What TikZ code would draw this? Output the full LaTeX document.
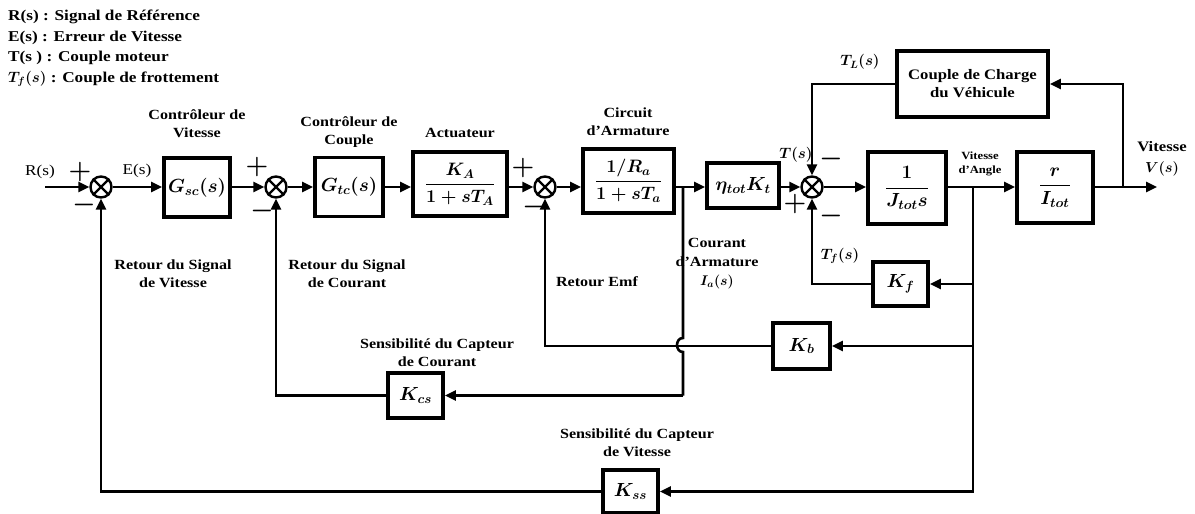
\RequirePackage{fix-cm}
\documentclass[tikz,border=0pt]{standalone}
\usepackage{amsmath}
\usepackage{bm}
\usepackage{fontspec}
\setmainfont{Liberation Serif}[FakeStretch=1.15]
\usetikzlibrary{arrows.meta}
\newcommand{\sumx}[1]{\draw[line width=2.4pt] (#1.45)--(#1.225) (#1.135)--(#1.315);}
\begin{document}
\begin{tikzpicture}[x=1pt,y=-1pt,
  blk/.style={draw, line width=3.8pt, inner sep=0pt, font=\fontsize{19}{22}\selectfont},
  sumn/.style={draw, circle, line width=2.4pt, minimum size=21pt, inner sep=0pt},
  conn/.style={line width=2.6pt},
  arr/.style={conn, -{Triangle[length=11pt,width=10pt]}},
  lbl/.style={font=\fontsize{14}{18}\selectfont\bfseries, align=center, inner sep=0pt},
  lgd/.style={font=\fontsize{15}{18}\selectfont\bfseries, anchor=west, inner sep=0pt},
  sgn/.style={font=\fontsize{26}{26}\selectfont, inner sep=0pt},
  mlb/.style={font=\fontsize{15}{18}\selectfont, inner sep=0pt, align=center},
  small/.style={font=\fontsize{11}{14}\selectfont\bfseries, align=center, inner sep=0pt}]
\useasboundingbox (0,0) rectangle (1195,514);

% legend
\node[lgd] (lg1) at (8,17) {R(s) : Signal de Référence};
\node[lgd] (lg2) at (8,38) {E(s) : Erreur de Vitesse};
\node[lgd] (lg3) at (8,58) {T(s ) : Couple moteur};
\node[lgd] (lg4) at (8,79) {$\bm{T_f(s)}$ : Couple de frottement};

% coordinates
\coordinate (in) at (45,187);
\coordinate (j1) at (683,187);
\coordinate (j2) at (973,187);
\coordinate (j3) at (1123,187);
\coordinate (out) at (1157,187);

% summing junctions
\node[sumn] (s1) at (101,187) {};
\node[sumn] (s2) at (276,187) {};
\node[sumn] (s3) at (545,187) {};
\node[sumn] (s4) at (812,187) {};
\sumx{s1}\sumx{s2}\sumx{s3}\sumx{s4}

% blocks
\node[blk, minimum width=66pt, minimum height=59pt] (gsc) at (197,187.5) {$\bm{G_{sc}(s)}$};
\node[blk, minimum width=68pt, minimum height=59pt] (gtc) at (349,187) {$\bm{G_{tc}(s)}$};
\node[blk, minimum width=94pt, minimum height=64pt, font=\fontsize{18}{21}\selectfont] (act) at (460,184) {$\bm{\dfrac{K_A}{1+sT_A}}$};
\node[blk, minimum width=91pt, minimum height=64pt, font=\fontsize{18}{21}\selectfont] (circ) at (628.5,181) {$\bm{\dfrac{1/R_a}{1+sT_a}}$};
\node[blk, minimum width=72pt, minimum height=45pt] (eta) at (743,185.5) {$\bm{\eta_{tot}K_t}$};
\node[blk, minimum width=78pt, minimum height=72pt] (jtot) at (907,188) {$\bm{\dfrac{1}{J_{tot}s}}$};
\node[blk, minimum width=76pt, minimum height=71pt] (itot) at (1055,187.5) {$\bm{\dfrac{r}{I_{tot}}}$};
\node[blk, minimum width=151pt, minimum height=66pt, font=\fontsize{14.5}{18}\selectfont\bfseries, align=center] (load) at (972.5,84) {Couple de Charge\\du Véhicule};
\node[blk, minimum width=55pt, minimum height=44pt] (kf) at (900.5,284) {$\bm{K_f}$};
\node[blk, minimum width=57pt, minimum height=46pt] (kb) at (801.5,346) {$\bm{K_b}$};
\node[blk, minimum width=55pt, minimum height=45pt] (kcs) at (415.5,395.5) {$\bm{K_{cs}}$};
\node[blk, minimum width=55pt, minimum height=43pt] (kss) at (630.5,491.5) {$\bm{K_{ss}}$};

% forward path
\draw[arr] (in) -- (s1.west);
\draw[arr] (s1.east) -- (gsc.west |- s1.east);
\draw[arr] (gsc.east |- s2.west) -- (s2.west);
\draw[arr] (s2.east) -- (gtc.west |- s2.east);
\draw[arr] (gtc.east |- s2.east) -- (act.west |- s2.east);
\draw[arr] (act.east |- s3.west) -- (s3.west);
\draw[arr] (s3.east) -- (circ.west |- s3.east);
\draw[arr] (circ.east |- j1) -- (eta.west |- j1);
\draw[arr] (eta.east |- s4.west) -- (s4.west);
\draw[arr] (s4.east) -- (jtot.west |- s4.east);
\draw[arr] (jtot.east |- j2) -- (itot.west |- j2);
\draw[arr] (itot.east |- j3) -- (out);

% load torque loop
\draw[arr] (j3) |- (load.east);
\draw[arr] (load.west) -| (s4.north);

% friction, emf, speed feedback
\draw[arr] (j2) |- (kf.east);
\draw[arr] (kf.west) -| (s4.south);
\draw[arr] (j2) |- (kb.east);
\draw[arr] (kb.west) -| (s3.south);
\draw[arr] (j2) |- (kss.east);
\draw[arr] (kss.west) -| (s1.south);

% current feedback with hop
\draw[conn] (j1) -- (683,338) .. controls (675,338) and (675,352) .. (683,352) -- (j1 |- kcs.east);
\draw[arr] (j1 |- kcs.east) -- (kcs.east);
\draw[arr] (kcs.west) -| (s2.south);

% signs
\node[sgn] (p1) at (80,172) {$\bm{+}$};
\node[sgn] (m1) at (84,205) {$\bm{-}$};
\node[sgn] (p2) at (257,167) {$\bm{+}$};
\node[sgn] (m2) at (262,211) {$\bm{-}$};
\node[sgn] (p3) at (523,168) {$\bm{+}$};
\node[sgn] (m3) at (534,207) {$\bm{-}$};
\node[sgn] (m4a) at (831,159) {$\bm{-}$};
\node[sgn] (p4) at (795,204) {$\bm{+}$};
\node[sgn] (m4b) at (831,216) {$\bm{-}$};

% labels
\node[mlb] (lR) at (40,172) {R(s)};
\node[mlb] (lE) at (137,171) {E(s)};
\node[lbl] (lgsc) at (197,124) {Contrôleur de\\Vitesse};
\node[lbl] (lgtc) at (349,132) {Contrôleur de\\Couple};
\node[lbl] (lact) at (460,133) {Actuateur};
\node[lbl] (lcirc) at (628,122) {Circuit\\d'Armature};
\node[lbl, font=\fontsize{14}{19}\selectfont\bfseries] (lia) at (717,264) {Courant\\d'Armature\\$\bm{I_a(s)}$};
\node[lbl] (lemf) at (597,282) {Retour Emf};
\node[mlb] (lT) at (796,155) {$\bm{T(s)}$};
\node[mlb] (lTL) at (860,62) {$\bm{T_L(s)}$};
\node[mlb] (lTf) at (840,256) {$\bm{T_f(s)}$};
\node[small] (lang) at (980,164) {Vitesse\\d'Angle};
\node[lbl, font=\fontsize{14.5}{21}\selectfont\bfseries] (lV) at (1162,159) {Vitesse\\$\bm{V(s)}$};
\node[lbl] (lrv) at (173,274) {Retour du Signal\\de Vitesse};
\node[lbl] (lrc) at (347,274) {Retour du Signal\\de Courant};
\node[lbl] (lscc) at (437,353) {Sensibilité du Capteur\\de Courant};
\node[lbl] (lscv) at (637,443) {Sensibilité du Capteur\\de Vitesse};
\end{tikzpicture}
\end{document}
